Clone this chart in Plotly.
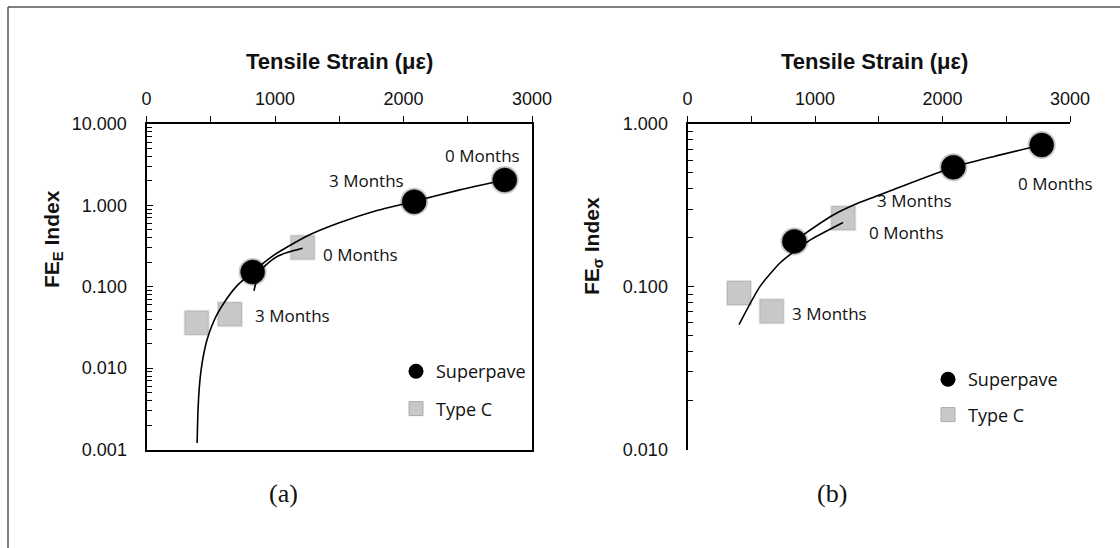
import numpy as np
import plotly.graph_objects as go

# ---------------- data ----------------
# Panel (a): FE_E index
sp_x_a = [2788, 2083, 826]
sp_y_a = [2.05, 1.11, 0.152]
sp_lab_a = ["0 Months", "3 Months", None]
tc_x_a = [1215, 649, 390]
tc_y_a = [0.304, 0.046, 0.036]
tc_lab_a = ["0 Months", "3 Months", None]
trend1_x_a = [394, 400, 411, 425, 445, 470, 505, 550, 610, 700, 826, 1000, 1250, 1500, 1800, 2083, 2438, 2788]
trend1_y_a = [0.0012, 0.0028, 0.0058, 0.0095, 0.0148, 0.022, 0.032, 0.046, 0.066, 0.101, 0.152, 0.25, 0.42,
              0.61, 0.87, 1.12, 1.55, 2.05]
trend2_x_a = [836, 860, 900, 950, 1020, 1100, 1215]
trend2_y_a = [0.089, 0.125, 0.165, 0.198, 0.237, 0.265, 0.297]

# Panel (b): FE_sigma index
sp_x_b = [2778, 2085, 838]
sp_y_b = [0.743, 0.542, 0.19]
sp_lab_b = ["0 Months", "3 Months", None]
tc_x_b = [1222, 660, 404]
tc_y_b = [0.264, 0.0706, 0.0915]
tc_lab_b = ["0 Months", "3 Months", None]
trend1_x_b = [838, 908, 1143, 1353, 1614, 2085, 2398, 2778]
trend1_y_b = [0.19, 0.2085, 0.276, 0.33, 0.395, 0.542, 0.63, 0.743]
trend2_x_b = [404, 569, 725, 838, 964, 1220]
trend2_y_b = [0.0585, 0.1005, 0.14, 0.165, 0.194, 0.248]

x_title = "<b>Tensile Strain (με)</b>"
y_title_a = "<b>FE<sub>E</sub> Index</b>"
y_title_b = "<b>FE<sub>σ</sub> Index</b>"
panel_a = "(a)"
panel_b = "(b)"
series_names = ["Superpave", "Type C"]

# ---------------- styles ----------------
W, H = 1120, 548
AX_FONT = dict(family="Liberation Sans, Arial, sans-serif", size=18, color="#111")
LAB_FONT = dict(family="Open Sans, sans-serif", size=17, color="#111")
LEG_FONT = dict(family="Open Sans, sans-serif", size=18, color="#111")
TITLE_FONT = dict(family="Liberation Sans, Arial, sans-serif", size=22, color="#111")
YTITLE_FONT = dict(family="Liberation Sans, Arial, sans-serif", size=21, color="#111")
SP_GLOW = dict(symbol="circle", size=28, color="rgba(0,0,0,0.22)", line=dict(width=0))
SP_MARKER = dict(symbol="circle", size=24, color="black", line=dict(width=1, color="rgba(0,0,0,0.5)"))
TC_SHADOW = dict(symbol="square", size=26, color="rgba(90,80,90,0.16)", line=dict(width=0))
TC_MARKER = dict(symbol="square", size=23, color="#c9c7ca", line=dict(width=1, color="#b8b6b9"))
LINE = dict(color="black", width=1.6)

fig = go.Figure()

def add_panel(xa, ya, sx, sy, tx, ty, t1x, t1y, t2x, t2y, legend):
    for xs, ys, mk in ((sx, sy, SP_GLOW), (sx, sy, SP_MARKER), (tx, ty, TC_SHADOW), (tx, ty, TC_MARKER)):
        fig.add_trace(go.Scatter(x=xs, y=ys, mode="markers", marker=mk, xaxis=xa, yaxis=ya,
                                 showlegend=False, hoverinfo="skip"))
    for lx, ly in ((t1x, t1y), (t2x, t2y)):
        fig.add_trace(go.Scatter(x=lx, y=ly, mode="lines", line=dict(**LINE, shape="spline", smoothing=0.6),
                                 xaxis=xa, yaxis=ya, showlegend=False, hoverinfo="skip"))
    # legend entries
    fig.add_trace(go.Scatter(x=[None], y=[None], mode="markers", name=series_names[0], legend=legend,
                             legendgroup=legend + "a", xaxis=xa, yaxis=ya,
                             marker=dict(symbol="circle", size=15, color="black")))
    fig.add_trace(go.Scatter(x=[None], y=[None], mode="markers", name=series_names[1], legend=legend,
                             legendgroup=legend + "b", xaxis=xa, yaxis=ya,
                             marker=dict(symbol="square", size=14, color="#c9c7ca", line=dict(width=1, color="#aaa"))))

add_panel("x", "y", sp_x_a, sp_y_a, tc_x_a, tc_y_a, trend1_x_a, trend1_y_a, trend2_x_a, trend2_y_a, "legend")
add_panel("x2", "y2", sp_x_b, sp_y_b, tc_x_b, tc_y_b, trend1_x_b, trend1_y_b, trend2_x_b, trend2_y_b, "legend2")

def xaxis_cfg(domain, mirror):
    return dict(domain=domain, range=[0, 3000], side="top", showline=True, linewidth=2, linecolor="black",
                mirror=mirror, ticks="outside", ticklen=6, tickwidth=1.2, tickcolor="black", dtick=1000,
                minor=dict(dtick=500, ticks="outside", ticklen=6, tickwidth=1.2, tickcolor="black"),
                tickfont=AX_FONT, showgrid=False, zeroline=False, ticklabelstandoff=4, automargin=False)

def yaxis_cfg(domain, rng, mirror):
    return dict(domain=domain, type="log", range=rng, dtick=1, tickformat=".3f", showline=True, linewidth=2,
                linecolor="black", mirror=mirror, ticks="inside", ticklen=6, tickwidth=1.2, tickcolor="black",
                minor=dict(dtick="D1", ticks="inside", ticklen=5, tickwidth=1, tickcolor="black"),
                tickfont=AX_FONT, showgrid=False, zeroline=False, ticklabelstandoff=14, automargin=False)

ydom = [1 - 449.5 / H, 1 - 124 / H]
fig.update_layout(
    template="none",
    width=W, height=H, margin=dict(l=0, r=0, t=0, b=0, pad=0), autosize=False,
    paper_bgcolor="white", plot_bgcolor="white",
    xaxis=dict(**xaxis_cfg([146.5 / W, 532 / W], True), anchor="y"),
    yaxis=dict(**yaxis_cfg(ydom, [-3, 1], True), anchor="x"),
    xaxis2=dict(**xaxis_cfg([687.5 / W, 1070 / W], False), anchor="y2"),
    yaxis2=dict(**yaxis_cfg(ydom, [-2, 0], False), anchor="x2"),
    legend=dict(x=396 / W, y=1 - 353 / H, xanchor="left", yanchor="top", font=LEG_FONT,
                bgcolor="rgba(0,0,0,0)", borderwidth=0, tracegroupgap=11, itemwidth=30),
    legend2=dict(x=928 / W, y=1 - 361 / H, xanchor="left", yanchor="top", font=LEG_FONT,
                 bgcolor="rgba(0,0,0,0)", borderwidth=0, tracegroupgap=9, itemwidth=30),
    showlegend=True,
)

# month labels next to points
def month_labels(xr, yr, xs, ys, labs, shifts):
    for x, y, lab, (dx, dy) in zip(xs, ys, labs, shifts):
        if lab:
            fig.add_annotation(x=x, y=np.log10(y), xref=xr, yref=yr, text=lab, showarrow=False,
                               xanchor="center", yanchor="middle", xshift=dx, yshift=dy, font=LAB_FONT)

month_labels("x", "y", sp_x_a, sp_y_a, sp_lab_a, [(-22, 25), (-48, 21), (0, 0)])
month_labels("x", "y", tc_x_a, tc_y_a, tc_lab_a, [(58, -7), (63, -1), (0, 0)])
month_labels("x2", "y2", sp_x_b, sp_y_b, sp_lab_b, [(14, -38), (-39, -33), (0, 0)])
month_labels("x2", "y2", tc_x_b, tc_y_b, tc_lab_b, [(63, -14), (58, -2), (0, 0)])

def paper_text(x, y, text, font, angle=0):
    fig.add_annotation(x=x / W, y=1 - y / H, xref="paper", yref="paper", text=text, showarrow=False,
                       xanchor="center", yanchor="middle", textangle=angle, font=font)

# axis titles
paper_text(339, 61, x_title, TITLE_FONT)
paper_text(874, 61, x_title, TITLE_FONT)
paper_text(53, 239, y_title_a, YTITLE_FONT, -90)
paper_text(593, 246, y_title_b, YTITLE_FONT, -90)

# panel captions
SERIF = dict(family="Liberation Serif, Times New Roman, serif", size=26, color="#111")
paper_text(283, 493, panel_a, SERIF)
paper_text(832, 493, panel_b, SERIF)

# outer frame (top and left edges)
fig.add_shape(type="line", xref="paper", yref="paper", x0=8 / W, x1=1, y0=1 - 7 / H, y1=1 - 7 / H,
              line=dict(color="#555", width=1.5))
fig.add_shape(type="line", xref="paper", yref="paper", x0=8 / W, x1=8 / W, y0=0, y1=1 - 7 / H,
              line=dict(color="#555", width=1.5))

fig.write_html("out.html", config={"displayModeBar": False},
               post_script="document.body.style.margin='0';document.body.style.overflow='hidden';")
